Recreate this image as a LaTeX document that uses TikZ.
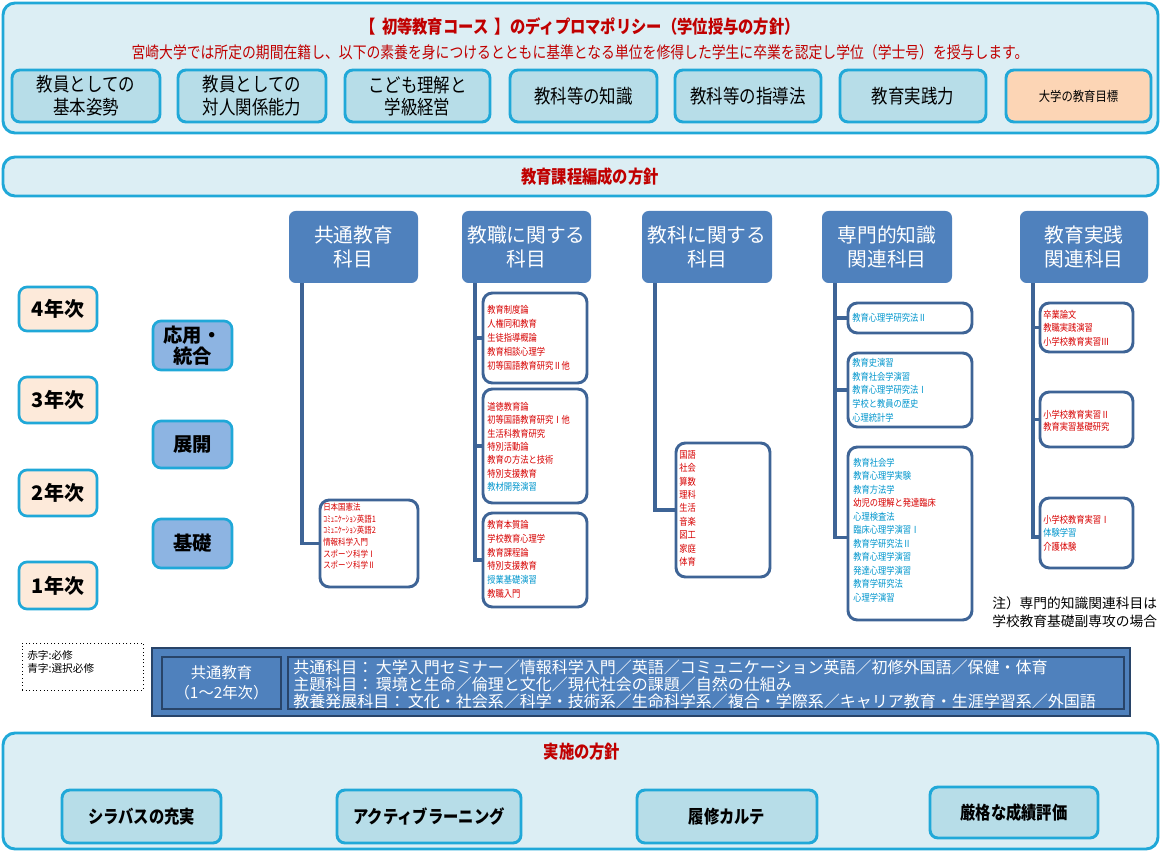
\documentclass[tikz,border=0pt]{standalone}
\usepackage{fontspec}
\setmainfont{Noto Sans CJK JP}
\newfontfamily\cond{Noto Sans CJK JP}[FakeStretch=0.85]
\usetikzlibrary{fit}
\definecolor{cyb}{RGB}{32,168,216}
\definecolor{pfill}{RGB}{220,238,244}
\definecolor{bfill}{RGB}{183,221,232}
\definecolor{peach}{RGB}{252,213,181}
\definecolor{ypeach}{RGB}{253,234,218}
\definecolor{hblue}{RGB}{79,129,189}
\definecolor{sblue}{RGB}{141,180,226}
\definecolor{lblue}{RGB}{62,100,150}
\definecolor{dnavy}{RGB}{40,68,105}
\definecolor{rtxt}{RGB}{215,0,0}
\definecolor{btxt}{RGB}{0,150,205}
\definecolor{ttlred}{RGB}{192,0,0}
\newcommand\myfs[2]{\fontsize{#1}{#2}\selectfont}
\newcommand\redc[1]{\textcolor{rtxt}{#1}}
\newcommand\bluc[1]{\textcolor{btxt}{#1}}
% style, corner1, corner2, name, text style, text
\newcommand\BX[6]{\node[#1,fit={#2 #3}] (#4) {}; \node[#5] (#4t) at (#4.center) {#6};}
\begin{document}
\begin{tikzpicture}[x=0.75pt,y=-0.75pt,
 panel/.style={draw=cyb,line width=2.2pt,fill=pfill,rounded corners=9pt,inner sep=0pt},
 dpbox/.style={draw=cyb,line width=2.2pt,fill=bfill,rounded corners=6pt,inner sep=0pt},
 goal/.style={dpbox,fill=peach},
 hdr/.style={fill=hblue,rounded corners=5pt,inner sep=0pt},
 yearbox/.style={draw=cyb,line width=2pt,fill=ypeach,rounded corners=6pt,inner sep=0pt},
 stagebox/.style={draw=cyb,line width=2pt,fill=sblue,rounded corners=6pt,inner sep=0pt},
 crs/.style={draw=lblue,line width=2.2pt,fill=white,rounded corners=7pt,inner sep=0pt},
 conn/.style={draw=lblue,line width=2.8pt},
 lst/.style={anchor=north west,inner sep=0pt,align=left},
 dptxt/.style={align=center,font=\cond\myfs{14.5}{17}},
 hdrtxt/.style={align=center,text=white,font=\myfs{14.8}{18}},
 yrtxt/.style={font=\bfseries\myfs{15}{18}},
 sttxt/.style={align=center,font=\bfseries\myfs{14.5}{15.5}},
 ttl/.style={text=ttlred,font=\cond\bfseries\myfs{13.5}{16}},
 kbtn/.style={align=center,font=\cond\bfseries\myfs{13.5}{16}},
 kyo/.style={draw=dnavy,line width=1.5pt,fill=hblue,inner sep=0pt},
 kyoin/.style={draw=dnavy,line width=2pt,fill=hblue,inner sep=0pt},
 wtxt/.style={text=white,anchor=west,inner sep=0pt,font=\myfs{12}{14}},
 legend/.style={draw=black,dotted,line width=0.7pt,inner sep=0pt}
]
\useasboundingbox (0,0) rectangle (1161,852);

% ---------- Diploma policy panel ----------
\node[panel,fit={(3,3) (1158,133)}] (dp) {};
\node[ttl] (dpt) at (580,27) {【 \,初等教育コース \,】のディプロマポリシー（学位授与の方針）};
\node[text=ttlred,font=\cond\myfs{12.2}{14}] (dps) at (580,52) {宮崎大学では所定の期間在籍し、以下の素養を身につけるとともに基準となる単位を修得した学生に卒業を認定し学位（学士号）を授与します。};
\BX{dpbox}{(12,70)}{(160,122)}{b1}{dptxt}{教員としての\\基本姿勢}
\BX{dpbox}{(178,70)}{(326,122)}{b2}{dptxt}{教員としての\\対人関係能力}
\BX{dpbox}{(345,70)}{(490,122)}{b3}{dptxt}{こども理解と\\学級経営}
\BX{dpbox}{(510,70)}{(657,122)}{b4}{dptxt}{教科等の知識}
\BX{dpbox}{(675,70)}{(821,122)}{b5}{dptxt}{教科等の指導法}
\BX{dpbox}{(840,70)}{(986,122)}{b6}{dptxt}{教育実践力}
\BX{goal}{(1006,70)}{(1151,122)}{b7}{font=\cond\myfs{10}{12}}{大学の教育目標}

% ---------- Curriculum policy bar ----------
\node[panel,fit={(3,157) (1158,196)}] (cp) {};
\node[ttl] (cpt) at (590,177) {教育課程編成の方針};

% ---------- Column headers ----------
\BX{hdr}{(289,211)}{(418,283)}{h1}{hdrtxt}{共通教育\\科目}
\BX{hdr}{(462,211)}{(591,283)}{h2}{hdrtxt}{教職に関する\\科目}
\BX{hdr}{(642,211)}{(772,283)}{h3}{hdrtxt}{教科に関する\\科目}
\BX{hdr}{(822,211)}{(952,283)}{h4}{hdrtxt}{専門的知識\\関連科目}
\BX{hdr}{(1020,211)}{(1148,283)}{h5}{hdrtxt}{教育実践\\関連科目}

% ---------- Years and stages ----------
\BX{yearbox}{(19,287)}{(97,331)}{y4}{yrtxt}{4年次}
\BX{yearbox}{(19,377)}{(97,423)}{y3}{yrtxt}{3年次}
\BX{yearbox}{(19,470)}{(97,516)}{y2}{yrtxt}{2年次}
\BX{yearbox}{(19,562)}{(97,609)}{y1}{yrtxt}{1年次}
\BX{stagebox}{(153,321)}{(232,370)}{s3}{sttxt}{応用・\\統合}
\BX{stagebox}{(153,421)}{(232,468)}{s2}{sttxt}{展開}
\BX{stagebox}{(153,519)}{(232,568)}{s1}{sttxt}{基礎}

% ---------- Course boxes ----------
\node[crs,fit={(320,500) (418,587)}] (k0) {};
\node[lst,font=\cond\myfs{6.6}{8.7}] (k0t) at (323,503) {\redc{日本国憲法}\\\redc{ｺﾐｭﾆｹｰｼｮﾝ英語1}\\\redc{ｺﾐｭﾆｹｰｼｮﾝ英語2}\\\redc{情報科学入門}\\\redc{スポーツ科学Ⅰ}\\\redc{スポーツ科学Ⅱ}};

\node[crs,fit={(483,293) (587,383)}] (k1) {};
\node[lst,font=\cond\myfs{7.3}{10.5}] (k1t) at (487,305) {\redc{教育制度論}\\\redc{人権同和教育}\\\redc{生徒指導概論}\\\redc{教育相談心理学}\\\redc{初等国語教育研究Ⅱ他}};
\node[crs,fit={(483,389) (587,503)}] (k2) {};
\node[lst,font=\cond\myfs{7.3}{10}] (k2t) at (487,402) {\redc{道徳教育論}\\\redc{初等国語教育研究Ⅰ他}\\\redc{生活科教育研究}\\\redc{特別活動論}\\\redc{教育の方法と技術}\\\redc{特別支援教育}\\\bluc{教材開発演習}};
\node[crs,fit={(483,513) (587,607)}] (k3) {};
\node[lst,font=\cond\myfs{7.3}{10.35}] (k3t) at (487,520) {\redc{教育本質論}\\\redc{学校教育心理学}\\\redc{教育課程論}\\\redc{特別支援教育}\\\bluc{授業基礎演習}\\\redc{教職入門}};

\node[crs,fit={(676,443) (770,577)}] (c1) {};
\node[lst,font=\cond\myfs{7.3}{10.1}] (c1t) at (679,450) {\redc{国語}\\\redc{社会}\\\redc{算数}\\\redc{理科}\\\redc{生活}\\\redc{音楽}\\\redc{図工}\\\redc{家庭}\\\redc{体育}};

\node[crs,fit={(848,303) (972,333)}] (m1) {};
\node[lst,font=\cond\myfs{7.3}{10.3}] (m1t) at (852,313) {\bluc{教育心理学研究法Ⅱ}};
\node[crs,fit={(848,353) (972,427)}] (m2) {};
\node[lst,font=\cond\myfs{7.3}{10.3}] (m2t) at (852,358) {\bluc{教育史演習}\\\bluc{教育社会学演習}\\\bluc{教育心理学研究法Ⅰ}\\\bluc{学校と教員の歴史}\\\bluc{心理統計学}};
\node[crs,fit={(848,447) (972,620)}] (m3) {};
\node[lst,font=\cond\myfs{7.3}{10.1}] (m3t) at (853,458) {\bluc{教育社会学}\\\bluc{教育心理学実験}\\\bluc{教育方法学}\\\redc{幼児の理解と発達臨床}\\\bluc{心理検査法}\\\bluc{臨床心理学演習Ⅰ}\\\bluc{教育学研究法Ⅱ}\\\bluc{教育心理学演習}\\\bluc{発達心理学演習}\\\bluc{教育学研究法}\\\bluc{心理学演習}};

\node[crs,fit={(1040,303) (1133,352)}] (p1) {};
\node[lst,font=\cond\myfs{7.3}{10.1}] (p1t) at (1043,310) {\redc{卒業論文}\\\redc{教職実践演習}\\\redc{小学校教育実習Ⅲ}};
\node[crs,fit={(1040,392) (1133,447)}] (p2) {};
\node[lst,font=\cond\myfs{7.3}{9}] (p2t) at (1043,410) {\redc{小学校教育実習Ⅱ}\\\redc{教育実習基礎研究}};
\node[crs,fit={(1040,498) (1133,568)}] (p3) {};
\node[lst,font=\cond\myfs{7.3}{10.1}] (p3t) at (1043,515) {\redc{小学校教育実習Ⅰ}\\\bluc{体験学習}\\\redc{介護体験}};

% ---------- Connectors ----------
\draw[conn] (h1.south west) ++(13,0) |- (k0.west);
\draw[conn] (h2.south west) ++(13,0) coordinate (h2x) |- (k3.west);
\draw[conn] (h2x) |- (k1.west);
\draw[conn] (h2x) |- (k2.west);
\draw[conn] (h3.south west) ++(13,0) |- (c1.west);
\draw[conn] (h4.south west) ++(13,0) coordinate (h4x) |- ([yshift=-3]m3.west);
\draw[conn] (h4x) |- (m1.west);
\draw[conn] (h4x) |- (m2.west);
\draw[conn] (h5.south west) ++(13,0) coordinate (h5x) |- ([yshift=-3]p3.west);
\draw[conn] (h5x) |- (p1.west);
\draw[conn] (h5x) |- (p2.west);

% ---------- Note ----------
\node[anchor=west,inner sep=0pt,align=left,font=\myfs{10.3}{13.5}] (note) at (992,612) {注）専門的知識関連科目は\\学校教育基礎副専攻の場合};

% ---------- Legend ----------
\node[legend,fit={(22,643) (143,690)}] (lg) {};
\node[anchor=north west,inner sep=0pt,align=left,font=\myfs{8}{10.2}] (lgt) at (27,650) {赤字:必修\\青字:選択必修};

% ---------- Common education panel ----------
\node[kyo,fit={(152,648) (1130,716)}] (ke) {};
\node[kyoin,fit={(162,657) (281,709)}] (kl) {};
\node[text=white,align=center,font=\myfs{11.5}{15}] (klt) at (kl.center) {共通教育\\（1～2年次）};
\node[kyoin,fit={(288,657) (1124,709)}] (kr) {};
\node[wtxt] (kr1) at (293,667) {共通科目：\,大学入門セミナー／情報科学入門／英語／コミュニケーション英語／初修外国語／保健・体育};
\node[wtxt] (kr2) at (293,684) {主題科目：\,環境と生命／倫理と文化／現代社会の課題／自然の仕組み};
\node[wtxt] (kr3) at (293,701) {教養発展科目：\,文化・社会系／科学・技術系／生命科学系／複合・学際系／キャリア教育・生涯学習系／外国語};

% ---------- Implementation policy ----------
\node[panel,fit={(3,733) (1158,849)}] (ip) {};
\node[ttl] (ipt) at (582,752) {実施の方針};
\BX{dpbox}{(62,790)}{(221,843)}{i1}{kbtn}{シラバスの充実}
\BX{dpbox}{(337,790)}{(521,843)}{i2}{kbtn}{アクティブラーニング}
\BX{dpbox}{(637,790)}{(817,843)}{i3}{kbtn}{履修カルテ}
\BX{dpbox}{(930,787)}{(1098,838)}{i4}{kbtn}{厳格な成績評価}
\end{tikzpicture}
\end{document}
